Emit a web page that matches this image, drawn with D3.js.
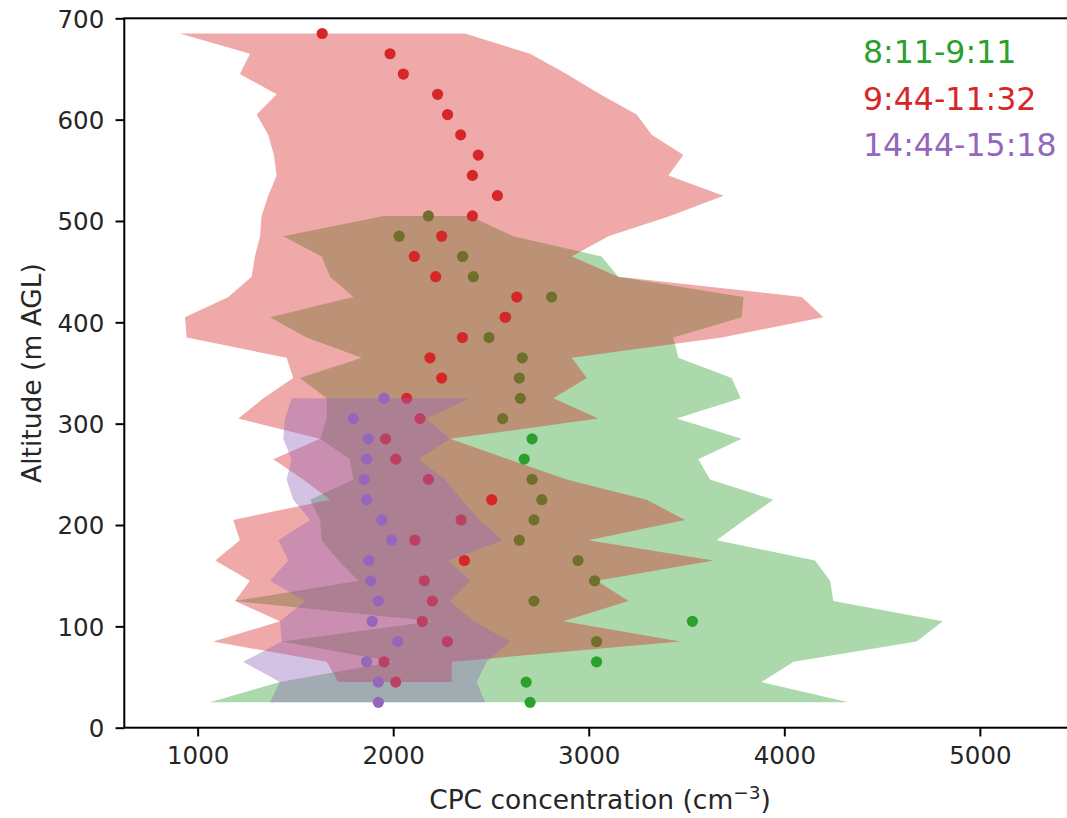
<!DOCTYPE html>
<html>
<head>
<meta charset="utf-8">
<script src="https://cdn.jsdelivr.net/npm/d3@7"></script>
<style>
  html, body { margin: 0; padding: 0; background: #ffffff; }
  svg { display: block; font-family: "DejaVu Sans", sans-serif; }
</style>
</head>
<body>
<svg id="chart" width="1067" height="818"></svg>
<script>
// Flight profiles of CPC particle concentration: per altitude bin,
// the mean (dots) and the min-max envelope (shaded band).

const seriesNames = ["8:11-9:11", "9:44-11:32", "14:44-15:18"];
const seriesColors = ["#2ca02c", "#d62728", "#9467bd"];

// 8:11-9:11
const altMorning = [25, 45, 65, 85, 105, 125, 145, 165, 185, 205, 225, 245, 265, 285, 305, 325, 345, 365, 385, 405, 425, 445, 465, 485, 505];
const meanMorning = [2700, 2680, 3040, 3040, 3530, 2720, 3030, 2945, 2645, 2720, 2760, 2710, 2670, 2710, 2560, 2650, 2645, 2660, 2490, 2575, 2810, 2410, 2355, 2030, 2180];
const lowMorning = [1063, 1420, 2000, 1430, 2200, 1191, 1822, 1720, 1634, 1626, 1575, 1796, 1779, 1626, 1660, 1660, 1523, 1839, 1557, 1370, 1796, 1677, 1634, 1438, 1950];
const highMorning = [4328, 3884, 4047, 4677, 4810, 4251, 4234, 4157, 3654, 3796, 3944, 3620, 3560, 3782, 3450, 3777, 3731, 3458, 3433, 3782, 3791, 3151, 3066, 2614, 2393];

// 9:44-11:32
const altMidday = [45, 65, 85, 105, 125, 145, 165, 185, 205, 225, 245, 265, 285, 305, 325, 345, 365, 385, 405, 425, 445, 465, 485, 505, 525, 545, 565, 585, 605, 625, 645, 665, 685];
const meanMidday = [2013, 1953, 2277, 2149, 2200, 2159, 2364, 2111, 2347, 2504, 2180, 2013, 1961, 2137, 2069, 2248, 2188, 2354, 2572, 2632, 2217, 2108, 2248, 2405, 2533, 2405, 2435, 2345, 2278, 2227, 2052, 1984, 1637];
const lowMidday = [1719, 1660, 1080, 1421, 1191, 1267, 1090, 1216, 1182, 1677, 1540, 1387, 1626, 1208, 1336, 1489, 1455, 944, 935, 1157, 1276, 1293, 1319, 1327, 1361, 1404, 1390, 1361, 1302, 1404, 1216, 1268, 909];
const highMidday = [2299, 2300, 3467, 2870, 3203, 3041, 3637, 2998, 3492, 3296, 2887, 2589, 2291, 3049, 2819, 2990, 2913, 3680, 4200, 4089, 3151, 2913, 3100, 3416, 3689, 3407, 3484, 3322, 3245, 3058, 2887, 2700, 2367];

// 14:44-15:18
const altAfternoon = [25, 45, 65, 85, 105, 125, 145, 165, 185, 205, 225, 245, 265, 285, 305, 325];
const meanAfternoon = [1924, 1924, 1864, 2023, 1893, 1924, 1885, 1876, 1992, 1941, 1864, 1852, 1864, 1873, 1796, 1953];
const lowAfternoon = [1370, 1420, 1233, 1430, 1421, 1549, 1370, 1464, 1413, 1575, 1489, 1455, 1480, 1438, 1447, 1481];
const highAfternoon = [2470, 2427, 2478, 2597, 2410, 2291, 2393, 2282, 2559, 2440, 2350, 2265, 2129, 2291, 2171, 2393];

const xTicks = [1000, 2000, 3000, 4000, 5000];
const yTicks = [0, 100, 200, 300, 400, 500, 600, 700];

const series = [
  { name: seriesNames[0], color: seriesColors[0], alt: altMorning, mean: meanMorning, low: lowMorning, high: highMorning },
  { name: seriesNames[1], color: seriesColors[1], alt: altMidday, mean: meanMidday, low: lowMidday, high: highMidday },
  { name: seriesNames[2], color: seriesColors[2], alt: altAfternoon, mean: meanAfternoon, low: lowAfternoon, high: highAfternoon }
];

const plot = { left: 124.3, right: 1075.7, top: 18.3, bottom: 727.7 };

const x = d3.scaleLinear().domain([625, 5490]).range([plot.left, plot.right]);
const y = d3.scaleLinear().domain([0, 700]).range([plot.bottom, plot.top]);

const svg = d3.select("#chart");
svg.append("rect").attr("width", 1067).attr("height", 818).attr("fill", "#ffffff");

svg.append("defs").append("clipPath").attr("id", "plot-clip")
  .append("rect")
  .attr("x", plot.left).attr("y", plot.top)
  .attr("width", plot.right - plot.left).attr("height", plot.bottom - plot.top);

const area = d3.area()
  .y(d => y(d.alt))
  .x0(d => x(d.low))
  .x1(d => x(d.high));

const layer = svg.append("g").attr("clip-path", "url(#plot-clip)");

// envelope first, then the mean dots, one series after another
series.forEach(s => {
  const rows = s.alt.map((a, i) => ({ alt: a, mean: s.mean[i], low: s.low[i], high: s.high[i] }));
  layer.append("path")
    .datum(rows)
    .attr("d", area)
    .attr("fill", s.color)
    .attr("fill-opacity", 0.4)
    .attr("stroke", "none");
  layer.append("g")
    .selectAll("circle")
    .data(rows)
    .join("circle")
    .attr("cx", d => x(d.mean))
    .attr("cy", d => y(d.alt))
    .attr("r", 5.6)
    .attr("fill", s.color);
});

// axes
const tickLen = 8.75;
const xAxis = d3.axisBottom(x).tickValues(xTicks).tickSize(tickLen).tickPadding(8.75).tickFormat(d3.format("d"));
const yAxis = d3.axisLeft(y).tickValues(yTicks).tickSize(tickLen).tickPadding(8.75).tickFormat(d3.format("d"));

const gx = svg.append("g").attr("transform", `translate(0,${plot.bottom})`).call(xAxis);
const gy = svg.append("g").attr("transform", `translate(${plot.left},0)`).call(yAxis);

[gx, gy].forEach(g => {
  g.select(".domain").remove();
  g.selectAll(".tick line").attr("stroke", "#000").attr("stroke-width", 2);
  g.selectAll(".tick text")
    .attr("fill", "#262626")
    .style("font-family", "'DejaVu Sans', sans-serif")
    .style("font-size", "24.5px");
});
gy.selectAll(".tick text").attr("x", -20).attr("dy", "0.36em");
gx.selectAll(".tick text").attr("dy", "0.77em");

// frame
svg.append("rect")
  .attr("x", plot.left).attr("y", plot.top)
  .attr("width", plot.right - plot.left).attr("height", plot.bottom - plot.top)
  .attr("fill", "none").attr("stroke", "#000").attr("stroke-width", 2);

// axis titles
const xt = svg.append("text")
  .attr("x", (plot.left + plot.right) / 2)
  .attr("y", 809)
  .attr("text-anchor", "middle")
  .attr("fill", "#262626")
  .style("font-size", "26.5px");
xt.append("tspan").text("CPC concentration (cm");
xt.append("tspan").text("\u22123").attr("dy", "-10").style("font-size", "18.5px");
xt.append("tspan").text(")").attr("dy", "10");

svg.append("text")
  .attr("transform", `translate(41,${(plot.top + plot.bottom) / 2}) rotate(-90)`)
  .attr("text-anchor", "middle")
  .attr("fill", "#262626")
  .style("font-size", "26.5px")
  .text("Altitude (m AGL)");

// series labels
const labelBaselines = [63.3, 110, 155.5];
series.forEach((s, i) => {
  svg.append("text")
    .attr("x", 863)
    .attr("y", labelBaselines[i])
    .attr("fill", s.color)
    .style("font-size", "31.6px")
    .text(s.name);
});
</script>
</body>
</html>
